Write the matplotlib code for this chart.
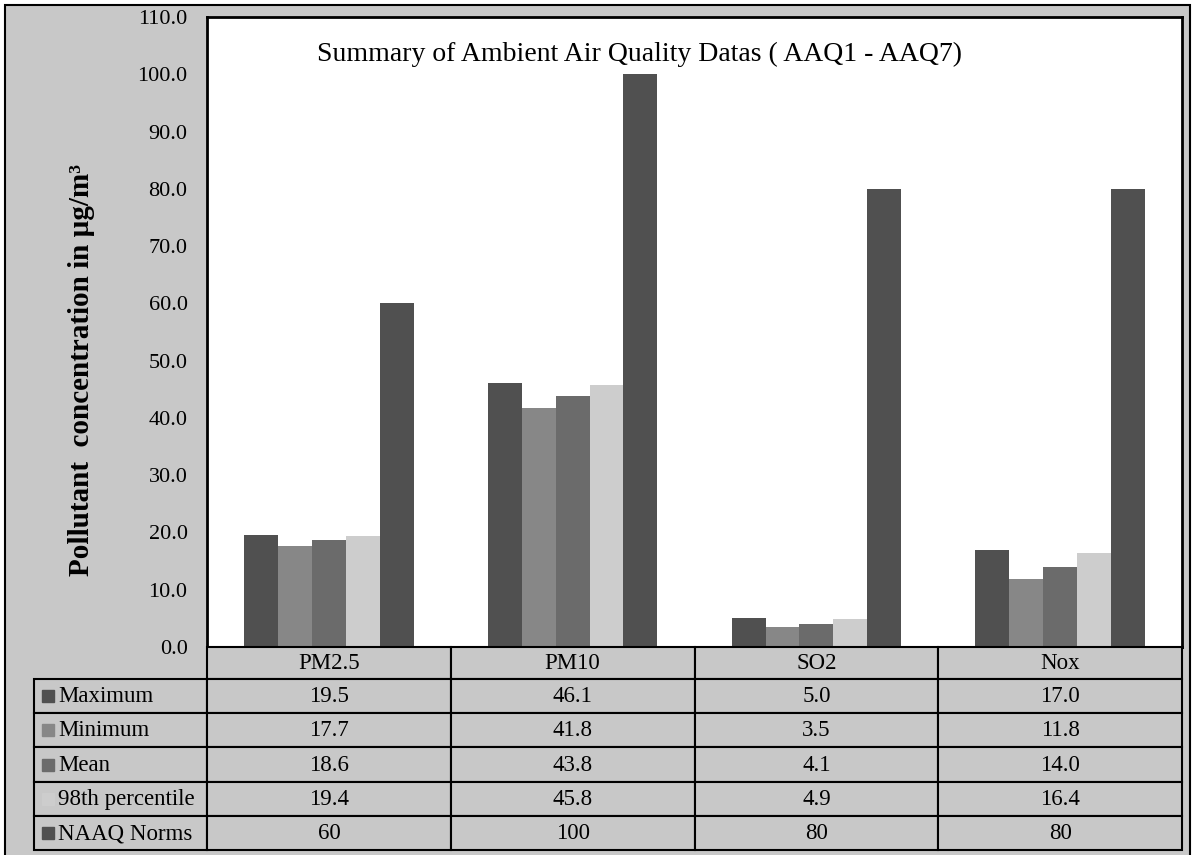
import matplotlib.pyplot as plt
from matplotlib.patches import Rectangle

plt.rcParams['font.family'] = ['Liberation Serif', 'DejaVu Serif']

pollutants = ["PM2.5", "PM10", "SO2", "Nox"]
series = ["Maximum", "Minimum", "Mean", "98th percentile", "NAAQ Norms"]
maximum = [19.5, 46.1, 5.0, 17.0]
minimum = [17.7, 41.8, 3.5, 11.8]
mean = [18.6, 43.8, 4.1, 14.0]
p98 = [19.4, 45.8, 4.9, 16.4]
naaq = [60, 100, 80, 80]
values = [maximum, minimum, mean, p98, naaq]
colors = ["#505050", "#878787", "#6b6b6b", "#cdcdcd", "#505050"]

W, H = 1197, 855
fig = plt.figure(figsize=(W / 100, H / 100), dpi=100)
fig.patch.set_facecolor("white")

# grey chart area with black border (bottom edge runs off the image)
fig.patches.append(Rectangle((5 / W, -5 / H), 1185 / W, 855 / H, transform=fig.transFigure,
                             fc="#c8c8c8", ec="black", lw=1.5, zorder=-5))


def px_axes(x0, y0, x1, y1):
    return fig.add_axes([x0 / W, (H - y1) / H, (x1 - x0) / W, (y1 - y0) / H])


ax = px_axes(207, 17, 1182, 647)
ax.set_facecolor("white")
n = len(series)
bw = 0.139
for k, (name, vals) in enumerate(zip(series, values)):
    xs = [i + (k - (n - 1) / 2) * bw for i in range(len(pollutants))]
    ax.bar(xs, vals, width=bw, color=colors[k], label=name)

ax.set_xlim(-0.5, len(pollutants) - 0.5)
ax.set_ylim(0, 110)
ax.set_yticks(range(0, 111, 10))
ax.set_yticklabels(["%.1f" % v for v in range(0, 111, 10)], fontsize=16)
ax.set_xticks([])
ax.tick_params(axis="y", length=0, pad=14)
for s in ax.spines.values():
    s.set_linewidth(2)
ax.text(0.444, 0.94, "Summary of Ambient Air Quality Datas ( AAQ1 - AAQ7)",
        transform=ax.transAxes, ha="center", va="center", fontsize=20)

fig.text(82 / W, (H - 370) / H, "Pollutant  concentration in µg/m³", rotation=90,
         ha="center", va="center", fontsize=21, fontweight="bold")

# data table under the plot: header 647-679 px, five rows down to 850 px
lab_w = (207 - 34) / 243.75
hdr = 32 / 34.2
tax = px_axes(34, 647, 1182, 850)
tax.set_xlim(-0.5 - lab_w, len(pollutants) - 0.5)
tax.set_ylim(hdr + len(series), 0)
tax.axis("off")
cell = dict(fc="#c8c8c8", ec="black", lw=1.5, clip_on=False)
fs = 16.5
for i, p in enumerate(pollutants):
    tax.add_patch(Rectangle((i - 0.5, 0), 1, hdr, **cell))
    tax.text(i, hdr / 2, p, ha="center", va="center", fontsize=fs)
for r, (name, vals) in enumerate(zip(series, values)):
    y0 = hdr + r
    tax.add_patch(Rectangle((-0.5 - lab_w, y0), lab_w, 1, **cell))
    tax.plot(-0.5 - lab_w + 0.057, y0 + 0.5, marker="s", ms=9, color=colors[r], clip_on=False)
    tax.text(-0.5 - lab_w + 0.098, y0 + 0.52, name, ha="left", va="center", fontsize=fs)
    for i, v in enumerate(vals):
        tax.add_patch(Rectangle((i - 0.5, y0), 1, 1, **cell))
        txt = "%d" % v if name == "NAAQ Norms" else "%.1f" % v
        tax.text(i, y0 + 0.52, txt, ha="center", va="center", fontsize=fs)

fig.savefig("out.png", dpi=100)
